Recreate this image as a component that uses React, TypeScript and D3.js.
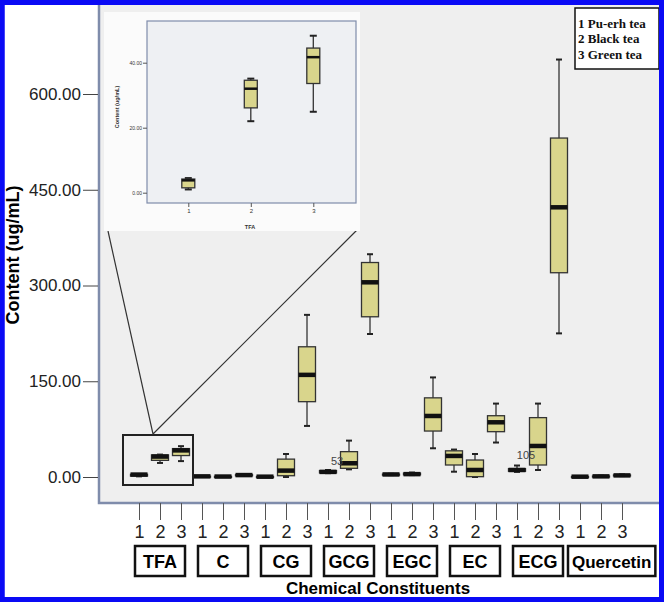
import React, { useEffect, useRef } from "react";
import * as d3 from "d3";

// categories
const groups = ["TFA", "C", "CG", "GCG", "EGC", "EC", "ECG", "Quercetin"];
const teaCodes = ["1", "2", "3"];
const legendLines = ["1 Pu-erh tea", "2 Black tea", "3 Green tea"];
const yTicks = [0, 150, 300, 450, 600];
const insetTicks = [0, 20, 40];

// box stats, order: TFA1..3, C1..3, CG1..3, GCG1..3, EGC1..3, EC1..3, ECG1..3, Quercetin1..3
const mins = [1, 22, 24.9, 0.5, 0.3, 2, 0, 0, 80, 6, 12, 224, 3, 3, 45, 8.3, 0, 54, 8, 11, 225, 0, 0.3, 1.5];
const q1s = [1.5, 26.1, 33.6, 0.8, 0.5, 2.5, 0.2, 2, 118, 6.5, 13.6, 251, 3.5, 3.5, 72, 18.8, 0.5, 71, 9, 18.8, 320, 0.2, 0.6, 2];
const medians = [3.8, 32, 41.7, 1, 0.7, 3, 0.5, 10, 160, 8, 21.5, 305, 4, 4.5, 95.6, 33, 11, 85.7, 11, 48.6, 422.5, 0.5, 1, 2.5];
const q3s = [4.2, 34.6, 44.5, 1.3, 1, 3.5, 0.8, 28, 204, 10, 39.7, 336, 4.5, 6, 124, 41, 26.6, 96, 13, 93, 531, 0.8, 1.5, 3.2];
const maxs = [4.5, 35.1, 48.3, 1.6, 1.2, 4, 1, 36, 254, 11, 57, 349, 5, 7, 156, 43, 36, 115, 18, 115, 654, 1, 2, 4];

// case labels printed beside two boxes
const caseLabels = ["53", "105"];
const caseIndex = [10, 19];
const caseValues = [25, 34];

const FILL = "#d9d58c";
const FRAME = "#7f8cab";

function BoxChart() {
    const ref = useRef(null);

    useEffect(() => {
        drawChart();
    }, []);

    function drawChart() {
        const svg = d3.select(ref.current);
        svg.selectAll("*").remove();

        const W = 666, H = 602;
        const plot = { left: 99, right: 661, top: 5, bottom: 503 };

        const keys = [];
        groups.forEach(g => teaCodes.forEach(t => keys.push(g + t)));

        const x = d3.scalePoint().domain(keys).range([139, 622]);
        const y = d3.scaleLinear().domain([0, 600]).range([477, 94]);

        svg.append("rect").attr("width", W).attr("height", H).attr("fill", "#ffffff");

        // plot background + frame
        svg.append("rect")
            .attr("x", plot.left).attr("y", plot.top)
            .attr("width", plot.right - plot.left).attr("height", plot.bottom - plot.top)
            .attr("fill", "#efefef");
        svg.append("path")
            .attr("d", `M${plot.left},${plot.top} V${plot.bottom} H${plot.right}`)
            .attr("fill", "none").attr("stroke", FRAME).attr("stroke-width", 2.5);

        // y axis
        const yAxis = svg.append("g")
            .attr("transform", `translate(${plot.left - 1},0)`)
            .call(d3.axisLeft(y).tickValues(yTicks).tickFormat(d3.format(".2f")).tickSize(15).tickPadding(2));
        yAxis.select(".domain").remove();
        yAxis.selectAll("line").attr("stroke", "#444");
        yAxis.selectAll("text")
            .attr("font-family", "Liberation Sans, Arial, sans-serif")
            .attr("font-size", 17).attr("fill", "#222");

        svg.append("text")
            .attr("transform", `translate(19,255) rotate(-90)`)
            .attr("text-anchor", "middle")
            .attr("font-family", "Liberation Sans, Arial, sans-serif")
            .attr("font-weight", "bold").attr("font-size", 18)
            .text("Content (ug/mL)");

        // x axis ticks and tea codes
        const xAxis = svg.append("g")
            .attr("transform", `translate(0,${plot.bottom})`)
            .call(d3.axisBottom(x).tickSize(17).tickPadding(5).tickFormat(d => d.slice(-1)));
        xAxis.select(".domain").remove();
        xAxis.selectAll("line").attr("stroke", "#555");
        xAxis.selectAll("text")
            .attr("font-family", "Liberation Sans, Arial, sans-serif")
            .attr("font-size", 18).attr("fill", "#222");

        // group label boxes
        let prevRight = 0;
        groups.forEach(g => {
            const cx = x(g + "2");
            const t = svg.append("text")
                .attr("y", 568)
                .attr("text-anchor", "middle")
                .attr("font-family", "Liberation Sans, Arial, sans-serif")
                .attr("font-weight", "bold").attr("font-size", g.length > 3 ? 17 : 18)
                .text(g);
            const tw = t.node().getComputedTextLength();
            const w = Math.max(50, tw + 8);
            const left = Math.max(cx - w / 2, prevRight + 5);
            prevRight = left + w;
            t.attr("x", left + w / 2);
            svg.append("rect")
                .attr("x", left).attr("y", 546).attr("width", w).attr("height", 30)
                .attr("fill", "none").attr("stroke", "#111").attr("stroke-width", 2.5);
        });

        svg.append("text")
            .attr("x", 378).attr("y", 594)
            .attr("text-anchor", "middle")
            .attr("font-family", "Liberation Sans, Arial, sans-serif")
            .attr("font-weight", "bold").attr("font-size", 17)
            .text("Chemical  Constituents");

        // boxes
        drawBoxes(svg.append("g"), keys, x, y, 17, 6, 4.5);

        caseLabels.forEach((lab, i) => {
            svg.append("text")
                .attr("x", x(keys[caseIndex[i]]) - 12)
                .attr("y", y(caseValues[i]) + 4)
                .attr("text-anchor", "middle")
                .attr("font-family", "Liberation Sans, Arial, sans-serif")
                .attr("font-size", 11).attr("fill", "#444")
                .text(lab);
        });

        // highlight rect around TFA + zoom lines
        svg.append("rect")
            .attr("x", 123).attr("y", 435).attr("width", 70).attr("height", 50)
            .attr("fill", "none").attr("stroke", "#222").attr("stroke-width", 2);
        svg.append("path")
            .attr("d", "M108,231 L153,434 L357,230")
            .attr("fill", "none").attr("stroke", "#333").attr("stroke-width", 1.2);

        // inset
        const inset = svg.append("g");
        inset.append("rect")
            .attr("x", 104).attr("y", 12).attr("width", 256).attr("height", 219)
            .attr("fill", "#fbfbfb");
        const ip = { left: 147, right: 356, top: 21, bottom: 203 };
        inset.append("rect")
            .attr("x", ip.left).attr("y", ip.top)
            .attr("width", ip.right - ip.left).attr("height", ip.bottom - ip.top)
            .attr("fill", "#eef0f3").attr("stroke", FRAME).attr("stroke-width", 1.2);

        const ix = d3.scalePoint().domain(teaCodes).range([188.3, 313.3]);
        const iy = d3.scaleLinear().domain([0, 40]).range([192.7, 62.7]);

        const iyAxis = inset.append("g")
            .attr("transform", `translate(${ip.left},0)`)
            .call(d3.axisLeft(iy).tickValues(insetTicks).tickFormat(d3.format(".2f")).tickSize(4).tickPadding(1));
        iyAxis.select(".domain").remove();
        iyAxis.selectAll("line").attr("stroke", "#555");
        iyAxis.selectAll("text")
            .attr("font-family", "Liberation Sans, Arial, sans-serif")
            .attr("font-size", 5).attr("fill", "#333");

        const ixAxis = inset.append("g")
            .attr("transform", `translate(0,${ip.bottom})`)
            .call(d3.axisBottom(ix).tickSize(4).tickPadding(2));
        ixAxis.select(".domain").remove();
        ixAxis.selectAll("line").attr("stroke", "#555");
        ixAxis.selectAll("text")
            .attr("font-family", "Liberation Sans, Arial, sans-serif")
            .attr("font-size", 6).attr("fill", "#333");

        inset.append("text")
            .attr("x", 250).attr("y", 229)
            .attr("text-anchor", "middle")
            .attr("font-family", "Liberation Sans, Arial, sans-serif")
            .attr("font-weight", "bold").attr("font-size", 5.5).attr("fill", "#333")
            .text("TFA");
        inset.append("text")
            .attr("transform", `translate(119,107) rotate(-90)`)
            .attr("text-anchor", "middle")
            .attr("font-family", "Liberation Sans, Arial, sans-serif")
            .attr("font-weight", "bold").attr("font-size", 5.5).attr("fill", "#333")
            .text("Content (ug/mL)");

        drawBoxes(inset.append("g"), teaCodes, ix, iy, 13, 7, 2.5, k => keys.indexOf("TFA" + k));

        // legend
        const legend = svg.append("g");
        legend.append("rect")
            .attr("x", 575).attr("y", 8).attr("width", 84).attr("height", 61)
            .attr("fill", "#ffffff").attr("stroke", "#111").attr("stroke-width", 1.5);
        legendLines.forEach((s, i) => {
            legend.append("text")
                .attr("x", 578).attr("y", 27.5 + i * 15.5)
                .attr("font-family", "Liberation Serif, Times New Roman, serif")
                .attr("font-weight", "bold").attr("font-size", 13).attr("fill", "#111")
                .text(s);
        });

        // blue frame
        svg.append("rect")
            .attr("x", 2.25).attr("y", 2.5).attr("width", W - 4.5 - 2.25).attr("height", H - 5)
            .attr("fill", "none").attr("stroke", "#0a0af5").attr("stroke-width", 5);
    }

    function drawBoxes(g, domain, xs, ys, bw, cw, mw, idxOf = k => domain.indexOf(k)) {
        domain.forEach(k => {
            const i = idxOf(k);
            const cx = xs(k);
            g.append("line")
                .attr("x1", cx).attr("x2", cx)
                .attr("y1", ys(maxs[i])).attr("y2", ys(mins[i]))
                .attr("stroke", "#333").attr("stroke-width", 1.3);
            [maxs[i], mins[i]].forEach(v => {
                g.append("line")
                    .attr("x1", cx - cw / 2).attr("x2", cx + cw / 2)
                    .attr("y1", ys(v)).attr("y2", ys(v))
                    .attr("stroke", "#222").attr("stroke-width", 2);
            });
            g.append("rect")
                .attr("x", cx - bw / 2).attr("y", ys(q3s[i]))
                .attr("width", bw).attr("height", Math.max(1, ys(q1s[i]) - ys(q3s[i])))
                .attr("fill", FILL).attr("stroke", "#333").attr("stroke-width", 1.3);
            g.append("line")
                .attr("x1", cx - bw / 2).attr("x2", cx + bw / 2)
                .attr("y1", ys(medians[i])).attr("y2", ys(medians[i]))
                .attr("stroke", "#111").attr("stroke-width", mw);
        });
    }

    return (
        <svg ref={ref} width={666} height={602}
            style={{ position: "absolute", left: 0, top: 0, display: "block" }} />
    );
}

export default function App() {
    return <BoxChart />;
}
